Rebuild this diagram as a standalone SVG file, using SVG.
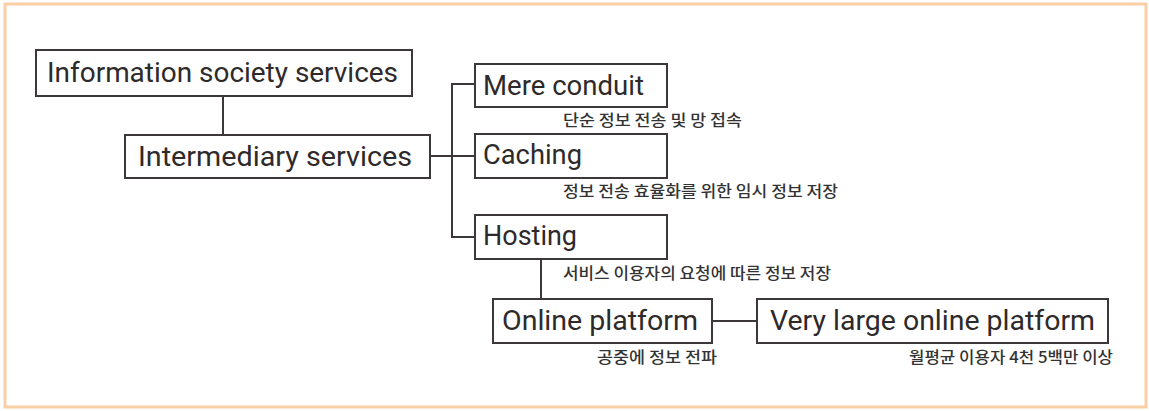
<svg xmlns="http://www.w3.org/2000/svg" width="1149" height="411" viewBox="0 0 1149 411">
<style>
.frame{fill:#ffffff;stroke:#fbcfa6;stroke-width:3}
.box{fill:#ffffff;stroke:#3d3838;stroke-width:2}
.lbl{font-family:Roboto,"Liberation Sans",sans-serif;font-size:27px;fill:#2e2a2a}
.sub{font-family:"Noto Sans CJK KR","Noto Sans",sans-serif;font-size:15.5px;font-weight:500;fill:#333333}
.conn{fill:none;stroke:#3d3838;stroke-width:2}
</style>
<rect class="frame" x="5" y="4" width="1141" height="403"/>
<g id="connectors">
<path class="conn" d="M223 96 V135"/>
<path class="conn" d="M430 156 H452"/>
<path class="conn" d="M475 84 H452 V237 H475"/>
<path class="conn" d="M452 156 H475"/>
<path class="conn" d="M541 259 V299"/>
<path class="conn" d="M712 321 H757"/>
</g>
<g id="information-society-services">
<rect class="box" x="36" y="50" width="376" height="46"/>
<text class="lbl" x="47" y="82" textLength="351" lengthAdjust="spacingAndGlyphs">Information society services</text>
</g>
<g id="intermediary-services">
<rect class="box" x="125" y="135" width="305" height="43"/>
<text class="lbl" x="138" y="166" textLength="274" lengthAdjust="spacingAndGlyphs">Intermediary services</text>
</g>
<g id="mere-conduit">
<rect class="box" x="475" y="64" width="192" height="43"/>
<text class="lbl" x="483" y="95" textLength="161" lengthAdjust="spacingAndGlyphs">Mere conduit</text>
<text class="sub" x="563" y="126" textLength="179" lengthAdjust="spacingAndGlyphs">단순 정보 전송 및 망 접속</text>
</g>
<g id="caching">
<rect class="box" x="475" y="134" width="192" height="44"/>
<text class="lbl" x="483" y="164" textLength="99" lengthAdjust="spacingAndGlyphs">Caching</text>
<text class="sub" x="563" y="197" textLength="275" lengthAdjust="spacingAndGlyphs">정보 전송 효율화를 위한 임시 정보 저장</text>
</g>
<g id="hosting">
<rect class="box" x="475" y="215" width="192" height="44"/>
<text class="lbl" x="483" y="245" textLength="94" lengthAdjust="spacingAndGlyphs">Hosting</text>
<text class="sub" x="563" y="279" textLength="268" lengthAdjust="spacingAndGlyphs">서비스 이용자의 요청에 따른 정보 저장</text>
</g>
<g id="online-platform">
<rect class="box" x="493" y="299" width="219" height="44"/>
<text class="lbl" x="502" y="330" textLength="196" lengthAdjust="spacingAndGlyphs">Online platform</text>
<text class="sub" x="597" y="363" textLength="120" lengthAdjust="spacingAndGlyphs">공중에 정보 전파</text>
</g>
<g id="very-large-online-platform">
<rect class="box" x="757" y="299" width="351" height="44"/>
<text class="lbl" x="770" y="330" textLength="325" lengthAdjust="spacingAndGlyphs">Very large online platform</text>
<text class="sub" x="909" y="363" textLength="204" lengthAdjust="spacingAndGlyphs">월평균 이용자 4천 5백만 이상</text>
</g>
</svg>
